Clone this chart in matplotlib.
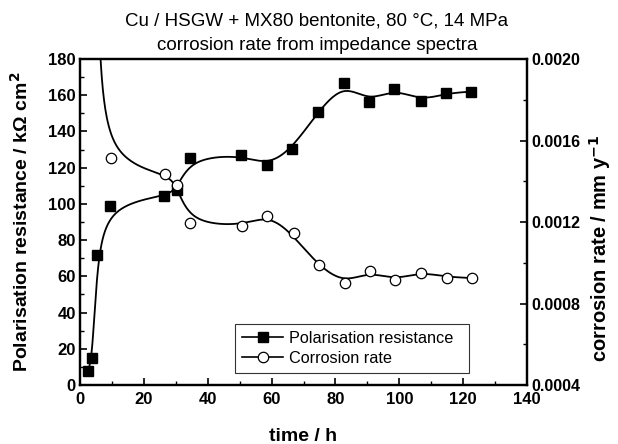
import numpy as np
import matplotlib
matplotlib.use("Agg")
import matplotlib.pyplot as plt
from matplotlib.ticker import MultipleLocator, FormatStrFormatter
from matplotlib.lines import Line2D

# ---- data ----
time_rp = [2.4, 3.9, 5.4, 9.4, 26.4, 30.3, 34.5, 50.5, 58.7, 66.3, 74.5, 82.6, 90.6, 98.5, 106.7, 114.6, 122.5]
rp = [7.5, 15, 72, 99, 104.4, 107.7, 125.2, 127, 121.3, 130.2, 150.8, 166.5, 156.4, 163.7, 157, 161, 162]

time_cr = [9.6, 26.6, 30.5, 34.5, 50.7, 58.7, 66.9, 74.7, 82.9, 90.9, 98.7, 106.8, 114.9, 122.8]
corr_rate = [0.001513, 0.001434, 0.001382, 0.001197, 0.001182, 0.001231, 0.001148, 0.000989,
             0.000899, 0.000960, 0.000915, 0.000951, 0.000927, 0.000927]

title_lines = ["Cu / HSGW + MX80 bentonite, 80 °C, 14 MPa", "corrosion rate from impedance spectra"]

plt.rcParams['font.family'] = ['Liberation Sans', 'DejaVu Sans']


def bspline(xs, ys, n=40):
    P = np.column_stack([xs, ys]).astype(float)
    P = np.vstack([P[0], P[0], P, P[-1], P[-1]])
    t = np.linspace(0, 1, n)
    B0 = (1 - t) ** 3 / 6
    B1 = (3 * t ** 3 - 6 * t ** 2 + 4) / 6
    B2 = (-3 * t ** 3 + 3 * t ** 2 + 3 * t + 1) / 6
    B3 = t ** 3 / 6
    out = []
    for i in range(len(P) - 3):
        seg = (B0[:, None] * P[i] + B1[:, None] * P[i + 1] +
               B2[:, None] * P[i + 2] + B3[:, None] * P[i + 3])
        out.append(seg)
    c = np.vstack(out)
    return c[:, 0], c[:, 1]


fig = plt.figure(figsize=(6.18, 4.44), dpi=100)
ax = fig.add_axes([80 / 618, 59 / 444, 447 / 618, 326 / 444])
ax2 = ax.twinx()

# Rp curve + markers
cx, cy = bspline(time_rp, rp)
ax.plot(cx, cy, color='black', lw=1.3, zorder=2)
ax.plot(time_rp, rp, ls='none', marker='s', ms=6.5, mfc='black', mec='black', zorder=3)

# corrosion rate curve: rate proportional to 1/Rp
k = np.median([r * np.interp(t, time_rp, rp) for t, r in zip(time_cr, corr_rate)])
ax2.plot(cx, k / cy, color='black', lw=1.3, zorder=2)
ax2.plot(time_cr, corr_rate, ls='none', marker='o', ms=7.5, mfc='white', mec='black',
         mew=0.9, zorder=3)

ax.set_xlim(0, 140)
ax.set_ylim(0, 180)
ax2.set_ylim(0.0004, 0.0020)

ax.xaxis.set_major_locator(MultipleLocator(20))
ax.xaxis.set_minor_locator(MultipleLocator(10))
ax.yaxis.set_major_locator(MultipleLocator(20))
ax.yaxis.set_minor_locator(MultipleLocator(10))
ax2.yaxis.set_major_locator(MultipleLocator(0.0004))
ax2.yaxis.set_minor_locator(MultipleLocator(0.0002))
ax2.yaxis.set_major_formatter(FormatStrFormatter('%.4f'))

for a in (ax, ax2):
    for s in a.spines.values():
        s.set_linewidth(1.6)
ax.tick_params(axis='y', which='major', direction='in', length=5, width=1.2,
               labelsize=12, pad=3)
ax.tick_params(axis='x', which='major', direction='in', length=5, width=1.2,
               labelsize=12, pad=5, top=False)
ax.tick_params(axis='both', which='minor', direction='in', length=3, width=1.0, top=False)
ax2.tick_params(axis='y', which='major', direction='in', length=5, width=1.2, labelsize=11.5, pad=3)
ax2.tick_params(axis='y', which='minor', direction='in', length=3, width=1.0)
for lbl in ax.get_xticklabels() + ax.get_yticklabels() + ax2.get_yticklabels():
    lbl.set_fontweight('bold')

ax.set_xlabel('time / h', fontsize=14, fontweight='bold', labelpad=15)
ax.set_ylabel('Polarisation resistance / k\u03a9 cm$^{\\mathbf{2}}$', fontsize=14, fontweight='bold', labelpad=12)
ax2.set_ylabel('corrosion rate / mm y$^{\\mathbf{-1}}$', fontsize=14.5, fontweight='bold', labelpad=5)
ax2.yaxis.label.set_y(0.42)

fig.text(317 / 618, 1 - 21 / 444, title_lines[0], ha='center', va='center', fontsize=13.5)
fig.text(317 / 618, 1 - 45 / 444, title_lines[1], ha='center', va='center', fontsize=13.5)

handles = [Line2D([], [], color='black', lw=1.2, marker='s', ms=6.5, mfc='black'),
           Line2D([], [], color='black', lw=1.2, marker='o', ms=7.5, mfc='white', mew=0.9)]
leg = ax.legend(handles, ['Polarisation resistance  ', 'Corrosion rate'],
                loc='lower left', bbox_to_anchor=(155 / 447, 12 / 326), fontsize=11.7,
                frameon=True, fancybox=False, handlelength=2.5, borderpad=0.45,
                labelspacing=0.3, handletextpad=0.35, borderaxespad=0)
leg.get_frame().set_edgecolor('black')
leg.get_frame().set_linewidth(0.8)

fig.savefig('out.png', dpi=100)
